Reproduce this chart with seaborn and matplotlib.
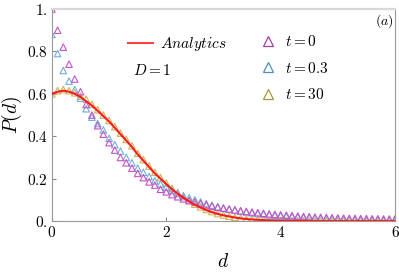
import numpy as np
import pandas as pd
import matplotlib
matplotlib.use("Agg")
import matplotlib.pyplot as plt
import seaborn as sns
from matplotlib.lines import Line2D

# distance grid (step 0.1 from 0 to 6)
d = np.round(np.arange(0, 61) * 0.1, 1)

p_t0 = [1.00, 0.90, 0.82, 0.74, 0.67, 0.61, 0.55, 0.50, 0.45, 0.41,
        0.37, 0.335, 0.30, 0.275, 0.25, 0.225, 0.205, 0.185, 0.17, 0.15,
        0.138, 0.125, 0.115, 0.105, 0.097, 0.09, 0.083, 0.077, 0.071, 0.066,
        0.061, 0.057, 0.053, 0.049, 0.046, 0.043, 0.040, 0.037, 0.034, 0.032,
        0.030, 0.028, 0.026, 0.024, 0.022, 0.021, 0.019, 0.018, 0.017, 0.016,
        0.015, 0.014, 0.013, 0.013, 0.012, 0.012, 0.011, 0.011, 0.010, 0.010,
        0.010]

p_t03 = [0.88, 0.79, 0.71, 0.66, 0.62, 0.58, 0.53, 0.49, 0.46, 0.43,
         0.39, 0.36, 0.33, 0.30, 0.275, 0.25, 0.23, 0.21, 0.19, 0.175,
         0.16, 0.145, 0.13, 0.12, 0.11, 0.10, 0.09, 0.082, 0.075, 0.068,
         0.062, 0.057, 0.052, 0.047, 0.043, 0.039, 0.036, 0.033, 0.030, 0.027,
         0.025, 0.023, 0.021, 0.019, 0.017, 0.016, 0.015, 0.014, 0.013, 0.012,
         0.011, 0.010, 0.010, 0.009, 0.009, 0.008, 0.008, 0.008, 0.007, 0.007,
         0.007]

p_t30 = [0.60, 0.615, 0.62, 0.615, 0.605, 0.59, 0.575, 0.55, 0.525, 0.50,
         0.475, 0.445, 0.415, 0.385, 0.355, 0.32, 0.29, 0.26, 0.23, 0.205,
         0.18, 0.155, 0.135, 0.115, 0.097, 0.08, 0.067, 0.055, 0.045, 0.036,
         0.029, 0.023, 0.018, 0.014, 0.011, 0.009, 0.007, 0.006, 0.005, 0.004,
         0.003, 0.003, 0.002, 0.002, 0.002, 0.001, 0.001, 0.001, 0.001, 0.001,
         0.001, 0.001, 0.001, 0.001, 0.001, 0.001, 0.001, 0.001, 0.001, 0.001,
         0.001]

p_analytic = [0.60, 0.61, 0.615, 0.61, 0.60, 0.585, 0.565, 0.545, 0.52, 0.495,
              0.47, 0.44, 0.41, 0.38, 0.35, 0.315, 0.285, 0.255, 0.225, 0.20,
              0.175, 0.15, 0.13, 0.11, 0.093, 0.077, 0.064, 0.052, 0.042, 0.034,
              0.027, 0.022, 0.017, 0.013, 0.010, 0.008, 0.006, 0.005, 0.004, 0.003,
              0.002, 0.0015, 0.001, 0.001, 0.0007, 0.0005, 0.0004, 0.0003, 0.0002, 0.0001,
              0, 0, 0, 0, 0, 0, 0, 0, 0, 0,
              0]

series = [("$t=0$", p_t0, "#c653c6", "#a43ea4"),
          ("$t=0.3$", p_t03, "#6db0d6", "#4f8fb3"),
          ("$t=30$", p_t30, "#cdb65a", "#a8963a")]

plt.rcParams["mathtext.fontset"] = "cm"
plt.rcParams["font.family"] = "serif"
plt.rcParams["font.serif"] = ["DejaVu Serif"]

fig = plt.figure(figsize=(3.99, 2.73), dpi=100)
ax = fig.add_axes([0.130, 0.190, 0.860, 0.777])

# draw t=30 first, t=0 on top
for lab, vals, c, _ in series[::-1]:
    df = pd.DataFrame({"d": d, "P": vals})
    sns.scatterplot(data=df, x="d", y="P", ax=ax, marker="^", s=22,
                    facecolors="none", edgecolor=c, color=c, linewidth=0.8,
                    legend=False, zorder=2)

sns.lineplot(x=d, y=p_analytic, ax=ax, color="#ff1a1a", linewidth=1.5, zorder=3)

ax.set_xlim(0, 6)
ax.set_ylim(0, 1)
ax.set_xticks([0, 2, 4, 6])
ax.set_xticklabels(["$0$", "$2$", "$4$", "$6$"], fontsize=11)
ax.set_yticks([0, 0.2, 0.4, 0.6, 0.8, 1.0])
ax.set_yticklabels(["$0.$", "$0.2$", "$0.4$", "$0.6$", "$0.8$", "$1.$"], fontsize=11)
ax.tick_params(direction="in", length=3, color="#888888", pad=3)
ax.set_xlabel("$d$", fontsize=14, labelpad=9)
ax.set_ylabel("$P(d)$", fontsize=14, labelpad=2)

for side in ["left", "bottom", "right"]:
    ax.spines[side].set_color("#999999")
    ax.spines[side].set_linewidth(0.8)
ax.spines["top"].set_color("#d8d8d8")
ax.spines["top"].set_linewidth(1.6)

h1 = [Line2D([], [], color="#ff4040", lw=1.5)]
leg1 = ax.legend(h1, [r"$\mathit{Analytics}$"], loc="upper left",
                 bbox_to_anchor=(0.205, 0.905), frameon=False, fontsize=11,
                 handlelength=1.6, handletextpad=0.5, borderaxespad=0)
ax.add_artist(leg1)
ax.text(0.236, 0.69, "$D=1$", transform=ax.transAxes, fontsize=11)

h2 = [Line2D([], [], marker="^", ls="", markerfacecolor="none",
             markeredgecolor=lc, markersize=7, markeredgewidth=0.9)
      for _, _, _, lc in series]
ax.legend(h2, [s[0] for s in series], loc="upper left",
          bbox_to_anchor=(0.59, 0.91), frameon=False, fontsize=11,
          handlelength=1.0, handletextpad=0.6, labelspacing=0.75, borderaxespad=0)

ax.text(0.995, 0.985, "$(a)$", transform=ax.transAxes, fontsize=10,
        ha="right", va="top")

fig.savefig("out.png", dpi=100)
